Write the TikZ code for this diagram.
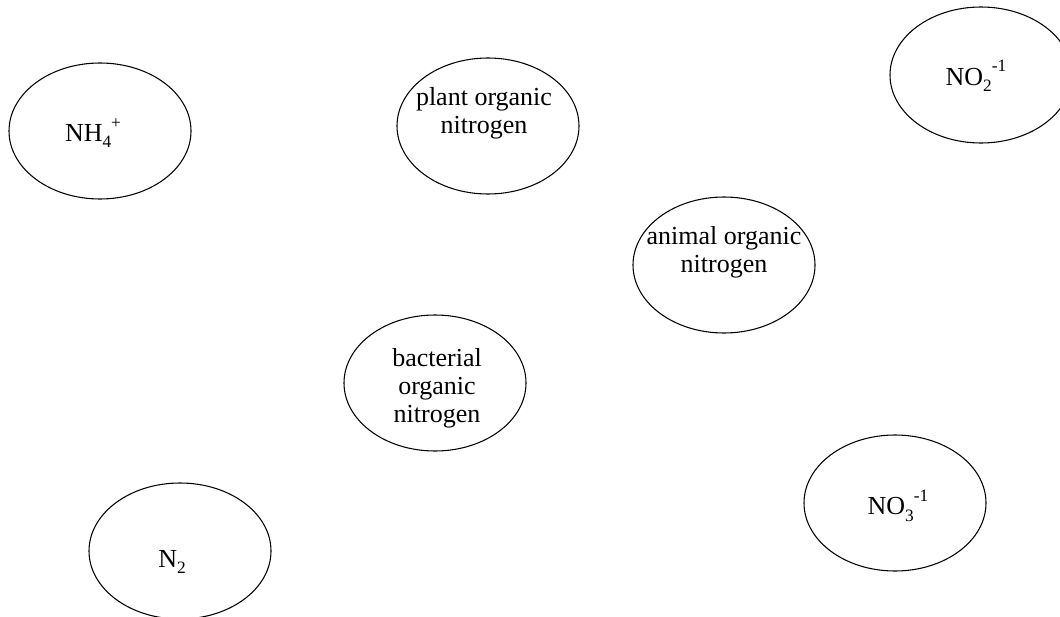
\documentclass[tikz,border=0pt]{standalone}
\usepackage{fontspec}
\setmainfont{Liberation Serif}
\usetikzlibrary{shapes.geometric}

% sub- and superscript for the ions, one after the other
\newcommand{\ionsub}[2]{\raisebox{-0.55ex}{\fontsize{13}{13}\selectfont #1}\raisebox{1.1ex}{\fontsize{13}{13}\selectfont #2}}

\tikzset{
  pool/.style={ellipse, draw, line width=0.8pt, minimum width=136.5pt, minimum height=102pt, inner sep=0pt},
  poollabel/.style={align=center, inner sep=0pt, font=\fontsize{19.5}{21}\selectfont}
}

\begin{document}
\begin{tikzpicture}[x=0.75pt, y=-0.75pt]
        \useasboundingbox (0,0) rectangle (1060,617);
        \clip (0,0) rectangle (1060,617);

        % Top row
        \node[pool] (nh4) at (100,131) {};
        \node[poollabel] (nh4lbl) at (93,133) {NH\ionsub{4}{+}};

        \node[pool] (plant) at (488,126) {};
        \node[poollabel] (plantlbl) at (484,113) {plant organic\\nitrogen};

        \node[pool] (no2) at (981,75) {};
        \node[poollabel] (no2lbl) at (976,76) {NO\ionsub{2}{-1}};

        % Middle
        \node[pool] (animal) at (724,265) {};
        \node[poollabel] (animallbl) at (724,252) {animal organic\\nitrogen};

        \node[pool] (bact) at (435,383) {};
        \node[poollabel] (bactlbl) at (437,388) {bacterial\\organic\\nitrogen};

        % Bottom row
        \node[pool] (no3) at (895,503) {};
        \node[poollabel] (no3lbl) at (898,506) {NO\ionsub{3}{-1}};

        \node[pool] (n2) at (180,551) {};
        \node[poollabel] (n2lbl) at (172,562) {N\raisebox{-0.55ex}{\fontsize{13}{13}\selectfont 2}};
    \end{tikzpicture}
\end{document}
